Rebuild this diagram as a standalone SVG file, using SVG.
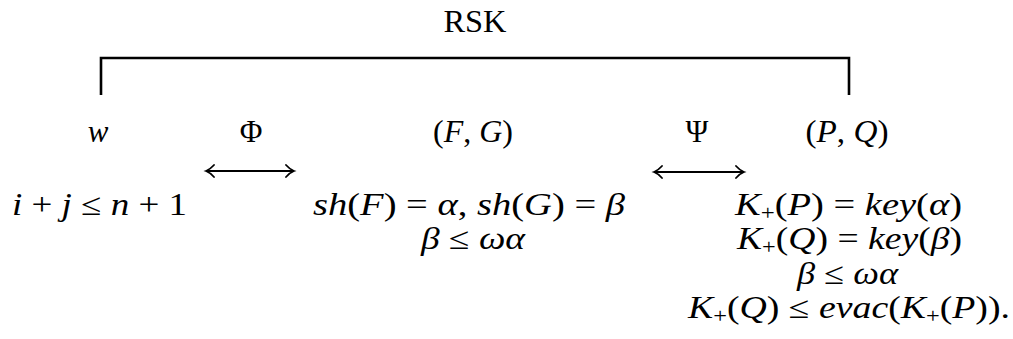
<svg xmlns="http://www.w3.org/2000/svg" width="1013" height="339" viewBox="0 0 1013 339">
<style>
text{font-family:"Liberation Serif","DejaVu Serif",serif;font-size:31px;fill:#000;text-anchor:middle}
.i{font-style:italic}
.s{font-size:20px}
.ln{fill:none;stroke:#000;stroke-width:2}
</style>
<defs>
<marker id="ah" markerWidth="14" markerHeight="14" refX="0" refY="0" viewBox="-10 -7 12 14" orient="auto-start-reverse" markerUnits="userSpaceOnUse">
<path d="M-8,-6 Q-4,-1.5 0,0 Q-4,1.5 -8,6" fill="none" stroke="#000" stroke-width="1.8" stroke-linecap="round"/>
</marker>
</defs>
<g id="title"><text x="475" y="32" textLength="63" lengthAdjust="spacingAndGlyphs">RSK</text></g>
<g id="connectors">
<path id="bracket" d="M101,95 V58 H849 V95" fill="none" stroke="#000" stroke-width="2.6"/>
<path id="phi-arrow" class="ln" d="M206,171 H294" marker-start="url(#ah)" marker-end="url(#ah)"/>
<path id="psi-arrow" class="ln" d="M654,172 H744" marker-start="url(#ah)" marker-end="url(#ah)"/>
</g>
<g id="label-phi"><text x="251" y="142">Φ</text></g>
<g id="label-psi"><text x="697" y="142">Ψ</text></g>
<g id="node-w">
<text x="98" y="142" class="i">w</text>
<text x="99.5" y="215" textLength="175" lengthAdjust="spacingAndGlyphs"><tspan class="i">i</tspan> + <tspan class="i">j</tspan> ≤ <tspan class="i">n</tspan> + 1</text>
</g>
<g id="node-FG">
<text x="473" y="142" textLength="80" lengthAdjust="spacingAndGlyphs">(<tspan class="i">F</tspan>, <tspan class="i">G</tspan>)</text>
<text x="469" y="215" textLength="312" lengthAdjust="spacingAndGlyphs"><tspan class="i">sh</tspan>(<tspan class="i">F</tspan>) = <tspan class="i">α</tspan>,  <tspan class="i">sh</tspan>(<tspan class="i">G</tspan>) = <tspan class="i">β</tspan></text>
<text x="473" y="249" textLength="104" lengthAdjust="spacingAndGlyphs"><tspan class="i">β</tspan> ≤ <tspan class="i">ωα</tspan></text>
</g>
<g id="node-PQ">
<text x="847" y="142" textLength="83" lengthAdjust="spacingAndGlyphs">(<tspan class="i">P</tspan>, <tspan class="i">Q</tspan>)</text>
<text x="848.5" y="215" textLength="227" lengthAdjust="spacingAndGlyphs"><tspan class="i">K</tspan><tspan class="s" dy="5">+</tspan><tspan dy="-5">(</tspan><tspan class="i">P</tspan>) = <tspan class="i">key</tspan>(<tspan class="i">α</tspan>)</text>
<text x="849.5" y="249" textLength="225" lengthAdjust="spacingAndGlyphs"><tspan class="i">K</tspan><tspan class="s" dy="5">+</tspan><tspan dy="-5">(</tspan><tspan class="i">Q</tspan>) = <tspan class="i">key</tspan>(<tspan class="i">β</tspan>)</text>
<text x="847.5" y="284" textLength="101" lengthAdjust="spacingAndGlyphs"><tspan class="i">β</tspan> ≤ <tspan class="i">ωα</tspan></text>
<text x="849" y="318" textLength="322" lengthAdjust="spacingAndGlyphs"><tspan class="i">K</tspan><tspan class="s" dy="5">+</tspan><tspan dy="-5">(</tspan><tspan class="i">Q</tspan>) ≤ <tspan class="i">evac</tspan>(<tspan class="i">K</tspan><tspan class="s" dy="5">+</tspan><tspan dy="-5">(</tspan><tspan class="i">P</tspan>)).</text>
</g>
</svg>
